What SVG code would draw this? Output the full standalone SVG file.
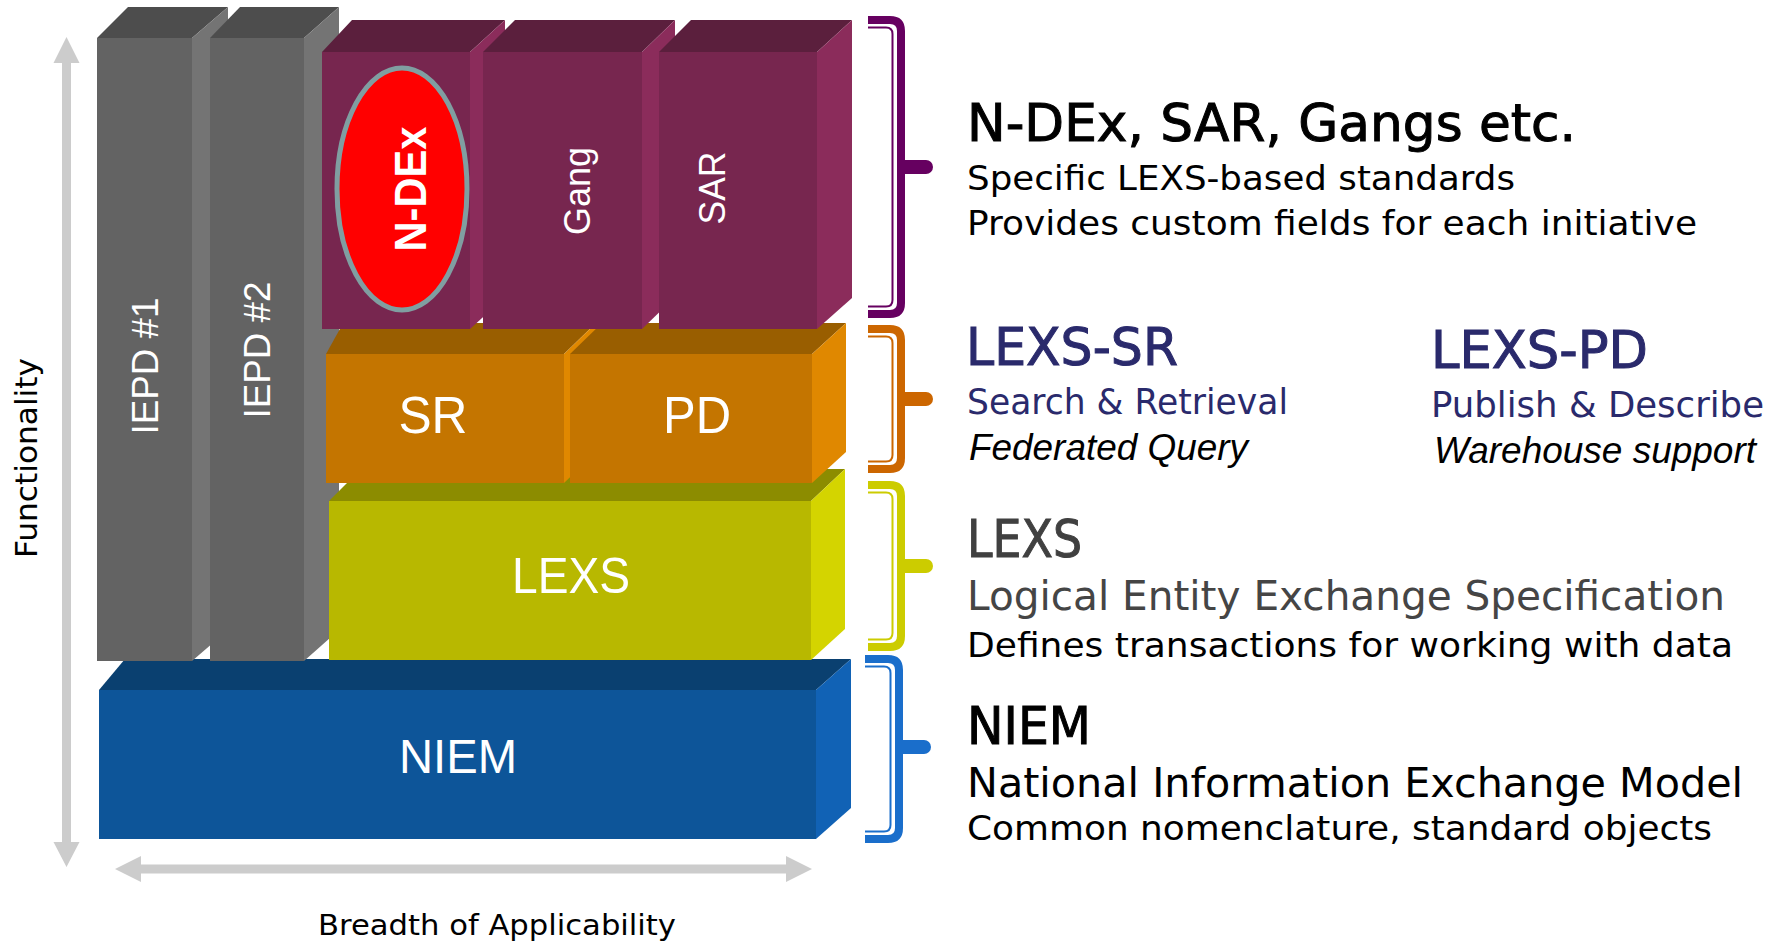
<svg xmlns="http://www.w3.org/2000/svg" width="1784" height="944" viewBox="0 0 1784 944">
<style>
.lbl{font-family:"Liberation Sans",Arial,sans-serif;fill:#ffffff}
.rt{font-family:"DejaVu Sans","Noto Sans",sans-serif;fill:#000000}
.hd{stroke-width:1;stroke:#000000}
.it{font-family:"Liberation Sans",Arial,sans-serif;font-style:italic;fill:#000000}
.navy{fill:#2a2a6c}
.hdn{stroke-width:1;stroke:#2a2a6c}
.axis{fill:#cccccc}
.g-f{fill:#636363}.g-t{fill:#4d4d4d}.g-s{fill:#747474}
.p-f{fill:#77264f}.p-t{fill:#5b1f3d}.p-s{fill:#8b2c5b}
.o-f{fill:#c47500}.o-t{fill:#995e00}.o-s{fill:#e08800}
.y-f{fill:#b8b800}.y-t{fill:#8c8c00}.y-s{fill:#d4d400}
.b-f{fill:#0d5599}.b-t{fill:#0a4070}.b-s{fill:#1162b5}
.thick{fill:none;stroke-width:8}
.thin{fill:none;stroke-width:2}
</style>
<rect width="1784" height="944" fill="#ffffff"/>

<g id="axes">
<polygon class="axis" points="66.5,37 79.5,63 71,63 71,842 79.5,842 66.5,867 53.5,842 62,842 62,63 53.5,63"/>
<polygon class="axis" points="115,869 141,856 141,864.5 786,864.5 786,856 812,869 786,882 786,873.5 141,873.5 141,882"/>
<text class="rt" transform="translate(37,458) rotate(-90)" text-anchor="middle" font-size="30" textLength="200" lengthAdjust="spacingAndGlyphs">Functionality</text>
<text class="rt" x="318" y="935" font-size="29" textLength="358" lengthAdjust="spacingAndGlyphs">Breadth of Applicability</text>
</g>

<g id="niem">
<polygon class="b-t" points="99,690 125,659 851,659 816,690"/>
<polygon class="b-s" points="816,690 851,659 851,808 816,839"/>
<rect class="b-f" x="99" y="690" width="717" height="149"/>
<text class="lbl" x="458" y="773" font-size="48" text-anchor="middle" textLength="118" lengthAdjust="spacingAndGlyphs">NIEM</text>
</g>

<g id="iepd1">
<polygon class="g-t" points="97,38 128,7 228,7 192,38"/>
<polygon class="g-s" points="192,38 228,7 228,630 192,661"/>
<rect class="g-f" x="97" y="38" width="95" height="623"/>
<text class="lbl" transform="translate(158,366) rotate(-90)" text-anchor="middle" font-size="36" textLength="137" lengthAdjust="spacingAndGlyphs">IEPD #1</text>
</g>

<g id="iepd2">
<polygon class="g-t" points="210,38 240,7 339,7 304,38"/>
<polygon class="g-s" points="304,38 339,7 339,630 304,661"/>
<rect class="g-f" x="210" y="38" width="94" height="623"/>
<text class="lbl" transform="translate(270,350) rotate(-90)" text-anchor="middle" font-size="36" textLength="137" lengthAdjust="spacingAndGlyphs">IEPD #2</text>
</g>

<g id="lexs">
<polygon class="y-t" points="329,501 361,469 845,469 811,501"/>
<polygon class="y-s" points="811,501 845,469 845,629 811,660"/>
<rect class="y-f" x="329" y="501" width="482" height="159"/>
<text class="lbl" x="571" y="593" font-size="50" text-anchor="middle" textLength="118" lengthAdjust="spacingAndGlyphs">LEXS</text>
</g>

<g id="sr">
<polygon class="o-t" points="326,354 341,327 358,323 596,323 564,354"/>
<polygon class="o-s" points="564,354 596,323 596,452 564,483"/>
<rect class="o-f" x="326" y="354" width="238" height="129"/>
<text class="lbl" x="433" y="433" font-size="52" text-anchor="middle" textLength="69" lengthAdjust="spacingAndGlyphs">SR</text>
</g>

<g id="pd">
<polygon class="o-t" points="570,354 602,323 846,323 812,354"/>
<polygon class="o-s" points="812,354 846,323 846,452 812,483"/>
<rect class="o-f" x="570" y="354" width="242" height="129"/>
<text class="lbl" x="697" y="433" font-size="52" text-anchor="middle" textLength="68" lengthAdjust="spacingAndGlyphs">PD</text>
</g>

<g id="ndex">
<polygon class="p-t" points="322,52 352,20 505,20 470,52"/>
<polygon class="p-s" points="470,52 505,20 505,297 470,329"/>
<rect class="p-f" x="322" y="52" width="148" height="277"/>
<ellipse cx="402" cy="189" rx="65" ry="121" fill="#ff0000" stroke="#809ea1" stroke-width="5"/>
<text class="lbl" transform="translate(426,189) rotate(-90)" text-anchor="middle" font-size="44" font-weight="bold" textLength="125" lengthAdjust="spacingAndGlyphs">N-DEx</text>
</g>

<g id="gang">
<polygon class="p-t" points="483,52 515,20 675,20 642,52"/>
<polygon class="p-s" points="642,52 675,20 675,297 642,329"/>
<rect class="p-f" x="483" y="52" width="159" height="277"/>
<text class="lbl" transform="translate(590,191) rotate(-90)" text-anchor="middle" font-size="36" textLength="88" lengthAdjust="spacingAndGlyphs">Gang</text>
</g>

<g id="sar">
<polygon class="p-t" points="659,52 691,20 852,20 817,52"/>
<polygon class="p-s" points="817,52 852,20 852,298 817,329"/>
<rect class="p-f" x="659" y="52" width="158" height="277"/>
<text class="lbl" transform="translate(725,188) rotate(-90)" text-anchor="middle" font-size="37" textLength="73" lengthAdjust="spacingAndGlyphs">SAR</text>
</g>

<g id="connectors">
<g stroke="#660060" fill="#660060">
<path class="thick" d="M868,20 H890 Q901,20 901,31 V303 Q901,314 890,314 H868"/>
<path class="thin" d="M868,27.5 H886 Q892.5,27.5 892.5,34 V300 Q892.5,306.5 886,306.5 H868"/>
<path stroke="none" d="M899,160 H926 A7,7 0 0 1 926,174 H899 Z"/>
</g>
<g stroke="#cc6600" fill="#cc6600">
<path class="thick" d="M868,329 H890 Q901,329 901,340 V458 Q901,469 890,469 H868"/>
<path class="thin" d="M868,336.5 H886 Q892.5,336.5 892.5,343 V455 Q892.5,461.5 886,461.5 H868"/>
<path stroke="none" d="M899,392 H926 A7,7 0 0 1 926,406 H899 Z"/>
</g>
<g stroke="#cccc00" fill="#cccc00">
<path class="thick" d="M868,485 H890 Q901,485 901,496 V636 Q901,647 890,647 H868"/>
<path class="thin" d="M868,492.5 H886 Q892.5,492.5 892.5,499 V633 Q892.5,639.5 886,639.5 H868"/>
<path stroke="none" d="M899,559 H926 A7,7 0 0 1 926,573 H899 Z"/>
</g>
<g stroke="#1a6ecb" fill="#1a6ecb">
<path class="thick" d="M865,659 H888 Q899,659 899,670 V828 Q899,839 888,839 H865"/>
<path class="thin" d="M865,666.5 H884 Q890.5,666.5 890.5,673 V825 Q890.5,831.5 884,831.5 H865"/>
<path stroke="none" d="M897,740 H924 A7,7 0 0 1 924,754 H897 Z"/>
</g>
</g>

<g id="desc-ndex">
<text class="rt hd" x="967" y="141" font-size="51" textLength="609" lengthAdjust="spacingAndGlyphs">N-DEx, SAR, Gangs etc.</text>
<text class="rt" x="967" y="190" font-size="33" textLength="548" lengthAdjust="spacingAndGlyphs">Specific LEXS-based standards</text>
<text class="rt" x="967" y="235" font-size="33" textLength="730" lengthAdjust="spacingAndGlyphs">Provides custom fields for each initiative</text>
</g>

<g id="desc-sr">
<text class="rt navy hdn" x="966" y="365" font-size="51" textLength="212" lengthAdjust="spacingAndGlyphs">LEXS-SR</text>
<text class="rt navy" x="967" y="414" font-size="35" textLength="321" lengthAdjust="spacingAndGlyphs">Search &amp; Retrieval</text>
<text class="it" x="969" y="460" font-size="36" textLength="279" lengthAdjust="spacingAndGlyphs">Federated Query</text>
</g>

<g id="desc-pd">
<text class="rt navy hdn" x="1431" y="368" font-size="51" textLength="217" lengthAdjust="spacingAndGlyphs">LEXS-PD</text>
<text class="rt navy" x="1431" y="417" font-size="35" textLength="333" lengthAdjust="spacingAndGlyphs">Publish &amp; Describe</text>
<text class="it" x="1434" y="463" font-size="36" textLength="322" lengthAdjust="spacingAndGlyphs">Warehouse support</text>
</g>

<g id="desc-lexs">
<text class="rt" x="967" y="557" font-size="52" style="fill:#404040;stroke:#404040;stroke-width:1" textLength="115" lengthAdjust="spacingAndGlyphs">LEXS</text>
<text class="rt" x="967" y="610" font-size="40" style="fill:#454545" textLength="758" lengthAdjust="spacingAndGlyphs">Logical Entity Exchange Specification</text>
<text class="rt" x="967" y="657" font-size="33" textLength="766" lengthAdjust="spacingAndGlyphs">Defines transactions for working with data</text>
</g>

<g id="desc-niem">
<text class="rt hd" x="967" y="744" font-size="51" textLength="124" lengthAdjust="spacingAndGlyphs">NIEM</text>
<text class="rt" x="967" y="797" font-size="40" textLength="776" lengthAdjust="spacingAndGlyphs">National Information Exchange Model</text>
<text class="rt" x="967" y="840" font-size="33" textLength="745" lengthAdjust="spacingAndGlyphs">Common nomenclature, standard objects</text>
</g>
</svg>
